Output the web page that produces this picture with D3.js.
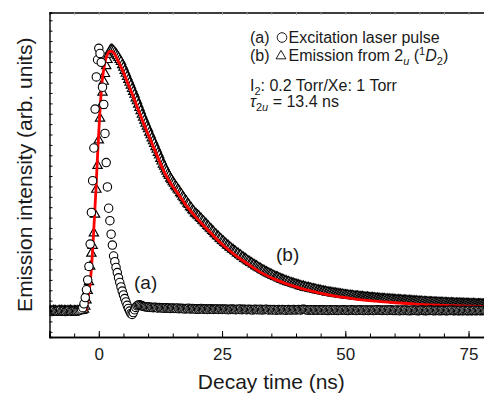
<!DOCTYPE html>
<html>
<head>
<meta charset="utf-8">
<script src="https://cdn.jsdelivr.net/npm/d3@7"></script>
<style>
  body { margin: 0; background: #fff; }
  svg { display: block; font-family: "Liberation Sans", Arial, sans-serif; }
</style>
</head>
<body>
<svg id="chart" width="484" height="394"></svg>
<script>
// sampling grid of the scope trace (ns)
const timeStart = -10
const timeStep = 0.25

// (a) excitation laser pulse, intensity in 1/1000 of peak
const pulseA = [
  1, 0, -2, 1, 2, 0, -1, 1, 0, 2, -1, 0, 1, -2, 0, 1, 2, 0, -1, 1,
  0, 1, -1, 0, 2, 4, 7, 13, 28, 52, 82, 120, 172, 258, 380, 502, 628, 778, 902, 968,
  1012, 992, 958, 862, 796, 684, 572, 478, 396, 348, 296, 254, 212, 190, 168, 148, 128, 110, 93, 77,
  62, 48, 35, 22, 10, 0, -9, -13, -6, 5, 14, 20, 23, 24, 22, 20, 18, 17, 17, 16,
  15, 16, 14, 15, 13, 14, 15, 13, 12, 14, 13, 12, 13, 11, 12, 13, 11, 12, 10, 11,
  12, 10, 11, 10, 12, 9, 10, 11, 9, 10, 8, 10, 9, 11, 8, 9, 10, 8, 9, 7,
  9, 7, 8, 10, 8, 7, 9, 8, 6, 8, 7, 9, 7, 6, 8, 7, 8, 6, 7, 8,
  6, 7, 8, 6, 7, 5, 7, 6, 8, 6, 7, 5, 6, 7, 6, 8, 5, 6, 7, 6,
  5, 6, 7, 5, 6, 4, 6, 7, 5, 6, 5, 7, 4, 6, 5, 6, 7, 5, 4, 6,
  5, 4, 6, 5, 3, 5, 6, 4, 5, 6, 4, 5, 3, 5, 6, 4, 5, 4, 6, 5,
  4, 5, 6, 5, 4, 6, 7, 6, 5, 4, 3, 4, 5, 4, 3, 5, 4, 3, 4, 5,
  4, 3, 5, 4, 3, 4, 2, 4, 5, 3, 4, 3, 5, 4, 2, 3, 4, 3, 5, 4,
  3, 4, 2, 3, 4, 5, 3, 4, 3, 2, 4, 3, 5, 4, 3, 2, 4, 3, 4, 2,
  3, 4, 3, 2, 4, 3, 5, 4, 3, 4, 2, 3, 4, 3, 2, 4, 3, 5, 3, 2,
  3, 2, 4, 3, 1, 3, 4, 2, 3, 4, 2, 3, 1, 3, 2, 4, 3, 2, 3, 1,
  2, 3, 4, 2, 3, 1, 2, 3, 2, 4, 3, 2, 1, 3, 2, 3, 2, 1, 3, 2,
  3, 2, 1, 2, 3, 2, 4, 3, 1, 2, 3, 2, 1, 2, 3, 1, 2, 3, 2, 1,
  2, 3, 1, 2, 2, 3, 1, 2, 3, 2, 1, 2, 3, 2, 1, 2, 3, 1, 2, 2,
  2
]

// (b) emission from 2u(1D2)
const emissionB = [
  0, 1, -1, 2, 0, 1, -2, 0, 1, 0, 2, -1, 1, 0, -1, 1, 0, 2, 0, -1,
  1, 0, -1, 1, 0, 2, 1, 3, 6, 18, 42, 78, 112, 172, 222, 252, 300, 372, 468, 560,
  658, 742, 792, 842, 884, 914, 944, 968, 988, 1002, 1008, 1006, 1002, 996, 990, 983, 976, 968, 960, 948,
  938, 926, 915, 903, 891, 880, 869, 856, 845, 834, 820, 809, 796, 783, 771, 757, 746, 734, 723, 711,
  701, 688, 678, 666, 655, 645, 632, 622, 610, 600, 587, 577, 565, 557, 546, 538, 528, 521, 511, 505,
  497, 491, 482, 477, 469, 464, 455, 450, 441, 436, 427, 423, 414, 410, 401, 397, 389, 385, 377, 374,
  369, 366, 359, 356, 349, 346, 339, 336, 329, 326, 319, 316, 309, 306, 299, 296, 289, 287, 280, 278,
  271, 269, 263, 260, 254, 252, 246, 244, 238, 236, 231, 229, 223, 222, 216, 215, 209, 208, 202, 201,
  197, 193, 191, 186, 185, 180, 179, 174, 173, 169, 166, 164, 160, 157, 156, 151, 150, 147, 145, 142,
  141, 137, 136, 132, 131, 130, 126, 126, 122, 121, 119, 116, 116, 112, 113, 109, 109, 106, 106, 103,
  103, 100, 100, 97, 97, 94, 95, 91, 92, 89, 90, 87, 88, 85, 85, 83, 83, 80, 81, 78,
  79, 76, 77, 74, 75, 72, 73, 71, 71, 69, 70, 68, 68, 66, 67, 65, 65, 63, 64, 62,
  62, 61, 61, 59, 60, 58, 59, 57, 57, 56, 57, 55, 55, 54, 55, 53, 53, 52, 53, 51,
  51, 50, 51, 49, 50, 48, 49, 47, 48, 47, 47, 46, 47, 45, 46, 44, 45, 44, 45, 43,
  43, 43, 42, 43, 41, 42, 41, 40, 41, 40, 40, 39, 40, 38, 39, 38, 38, 37, 38, 37,
  37, 36, 37, 35, 36, 35, 35, 34, 35, 34, 34, 33, 34, 33, 33, 32, 33, 32, 32, 32,
  31, 32, 31, 30, 31, 30, 31, 30, 30, 29, 30, 29, 29, 30, 29, 28, 29, 28, 29, 28,
  28, 27, 28, 27, 28, 27, 27, 26, 27, 26, 27, 26, 26, 25, 26, 26, 25, 26, 25, 25,
  25
]

// fitted decay curve (tau = 13.4 ns)
const fitTime = [-2.6, -2.2, -1.8, -1.4, -1.0, -0.6, -0.2, 0.2, 0.6, 1.0, 1.4, 1.8, 2.2, 2.6, 3.2,
  4, 5, 6, 7, 8, 9, 10, 11, 12, 13, 14, 15, 16, 18, 20, 22, 24, 26, 28, 30, 33, 36,
  40, 44, 48, 52, 56, 60, 65, 70, 75, 80]
const fitValue = [0, 50, 100, 190, 320, 460, 620, 760, 870, 930, 970, 990, 1000, 1000, 990,
  960, 920, 872, 826, 776, 727, 681, 636, 591, 547, 510, 480, 454, 400, 355, 315, 276, 241, 211, 184, 147, 120,
  93, 73, 57, 46, 38, 32, 26, 22, 19, 17]

const xTickLabels = [0, 25, 50, 75]
const xMinorTicks = d3.range(-10, 81, 5)
const yMinorTicks = d3.range(-80, 1150, 40)

const padLeft = 49.5
const padTop = 12.5
const axisY = 337
const padRight = 493.2
const ink = '#1a1a1a'

const svg = d3.select('#chart')

const x = d3.scaleLinear().domain([-10, 80]).range([padLeft, padRight])
const y = d3.scaleLinear().domain([-100, 1150]).range([axisY, padTop])

const tOf = i => timeStart + i * timeStep

svg.append('defs').append('clipPath').attr('id', 'plot')
  .append('rect')
  .attr('x', padLeft).attr('y', padTop)
  .attr('width', padRight - padLeft).attr('height', axisY - padTop)

const plot = svg.append('g').attr('clip-path', 'url(#plot)')

// (b) triangles
const tri = d3.symbol().type(d3.symbolTriangle).size(38)
plot.append('g')
  .selectAll('path')
  .data(emissionB)
  .join('path')
  .attr('d', tri)
  .attr('transform', (d, i) => `translate(${x(tOf(i))},${y(d)})`)
  .attr('fill', '#fff')
  .attr('stroke', '#000')
  .attr('stroke-width', 1.15)

// fit
const fitLine = d3.line()
  .x((d, i) => x(fitTime[i]))
  .y(d => y(d))
  .curve(d3.curveMonotoneX)
plot.append('path')
  .datum(fitValue)
  .attr('d', fitLine)
  .attr('fill', 'none')
  .attr('stroke', '#ff0000')
  .attr('stroke-width', 2.8)

// (a) circles
plot.append('g')
  .selectAll('circle')
  .data(pulseA)
  .join('circle')
  .attr('cx', (d, i) => x(tOf(i)))
  .attr('cy', d => y(d))
  .attr('r', 4.2)
  .attr('fill', '#fff')
  .attr('stroke', '#000')
  .attr('stroke-width', 1.1)

// axes
const minorX = d3.axisBottom(x).tickValues(xMinorTicks).tickSize(-3.5).tickFormat('')
svg.append('g').attr('transform', `translate(0,${axisY})`).call(minorX)

const majorX = d3.axisBottom(x).tickValues(xTickLabels).tickSize(-6).tickPadding(11)
const gx = svg.append('g').attr('transform', `translate(0,${axisY})`).call(majorX)
gx.selectAll('text').attr('font-size', 17).attr('fill', ink)
gx.attr('font-family', null)

const topAxis = d3.axisTop(x).tickValues(xMinorTicks).tickSize(-2.5).tickFormat('')
const gt = svg.append('g').attr('transform', `translate(0,${padTop})`).call(topAxis)

const yAxis = d3.axisLeft(y).tickValues(yMinorTicks).tickSize(-3).tickFormat('')
svg.append('g').attr('transform', `translate(${padLeft},0)`).call(yAxis)

svg.selectAll('.domain').attr('stroke', '#000').attr('stroke-width', 1.4)
svg.selectAll('.tick line').attr('stroke', '#000')
gt.selectAll('.tick line').attr('stroke', '#aaa')

// axis titles
svg.append('text')
  .attr('x', (padLeft + padRight) / 2).attr('y', 389)
  .attr('text-anchor', 'middle')
  .attr('font-size', 21)
  .attr('fill', ink)
  .text('Decay time (ns)')

svg.append('text')
  .attr('transform', `translate(32,${(padTop + axisY) / 2}) rotate(-90)`)
  .attr('text-anchor', 'middle')
  .attr('font-size', 21)
  .attr('fill', ink)
  .text('Emission intensity (arb. units)')

// curve tags
svg.append('text').attr('x', 134).attr('y', 289).attr('font-size', 19).attr('fill', ink).text('(a)')
svg.append('text').attr('x', 276).attr('y', 261).attr('font-size', 19).attr('fill', ink).text('(b)')

// legend / notes
const note = svg.append('g').attr('font-size', 16).attr('fill', ink)

note.append('text').attr('x', 250).attr('y', 43).text('(a)')
note.append('circle').attr('cx', 282).attr('cy', 37.5).attr('r', 4.8)
  .attr('fill', 'none').attr('stroke', ink).attr('stroke-width', 1)
note.append('text').attr('x', 288.5).attr('y', 43).text('Excitation laser pulse')

note.append('text').attr('x', 250).attr('y', 61).text('(b)')
note.append('path').attr('d', d3.symbol().type(d3.symbolTriangle).size(42))
  .attr('transform', 'translate(281,56)')
  .attr('fill', 'none').attr('stroke', ink).attr('stroke-width', 1)
const l2 = note.append('text').attr('x', 288.5).attr('y', 61)
l2.append('tspan').text('Emission from 2')
l2.append('tspan').attr('dy', 4).attr('font-size', 11).attr('font-style', 'italic').text('u')
l2.append('tspan').attr('dy', -4).text(' (')
l2.append('tspan').attr('dy', -6).attr('font-size', 11).text('1')
l2.append('tspan').attr('dy', 6).attr('font-style', 'italic').text('D')
l2.append('tspan').attr('dy', 4).attr('font-size', 11).text('2')
l2.append('tspan').attr('dy', -4).text(')')

const l3 = note.append('text').attr('x', 250).attr('y', 91)
l3.append('tspan').text('I')
l3.append('tspan').attr('dy', 4).attr('font-size', 11).text('2')
l3.append('tspan').attr('dy', -4).text(': 0.2 Torr/Xe: 1 Torr')

const l4 = note.append('text').attr('x', 250).attr('y', 107)
l4.append('tspan').attr('font-style', 'italic').text('τ')
l4.append('tspan').attr('dy', 4).attr('font-size', 11).text('2')
l4.append('tspan').attr('font-size', 11).attr('font-style', 'italic').text('u')
l4.append('tspan').attr('dy', -4).text(' = 13.4 ns')
</script>
</body>
</html>
